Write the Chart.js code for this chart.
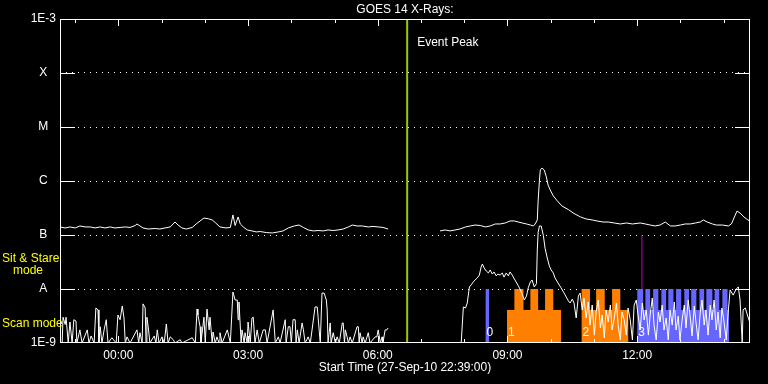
<!DOCTYPE html>
<html>
<head>
<meta charset="utf-8">
<title>GOES 14 X-Rays</title>
<script src="https://cdn.jsdelivr.net/npm/chart.js@4.4.0/dist/chart.umd.min.js"></script>
<style>
  html, body { margin: 0; padding: 0; background: #000; }
  canvas { display: block; }
</style>
</head>
<body>
<canvas id="xray-chart" width="768" height="384"></canvas>
<script>
// times are hours relative to 00:00 on 28-Sep-10 (plot starts 27-Sep 22:39)
const timeRange = [-1.35, 14.61];
const hourTicks = [-1, 0, 1, 2, 3, 4, 5, 6, 7, 8, 9, 10, 11, 12, 13, 14];
const hourLabels = ['', '00:00', '', '', '03:00', '', '', '06:00', '', '', '09:00', '', '', '12:00', '', ''];
const fluxTicks = [1e-9, 1e-8, 1e-7, 1e-6, 1e-5, 1e-4, 1e-3];
const fluxLabels = ['1E-9', 'A', 'B', 'C', 'M', 'X', '1E-3'];

const eventPeak = 6.68;
const markerTime = 12.11;
const markerRange = [1e-8, 1e-7];

// 1-8 A channel
const longChannel = [
  [-1.35, 1.41e-7], [-1.23, 1.35e-7], [-1.12, 1.41e-7], [-1.00, 1.35e-7], [-0.89, 1.47e-7],
  [-0.77, 1.41e-7], [-0.65, 1.41e-7], [-0.54, 1.35e-7], [-0.42, 1.41e-7], [-0.31, 1.35e-7],
  [-0.19, 1.41e-7], [-0.08, 1.35e-7], [0.04, 1.38e-7], [0.16, 1.41e-7], [0.27, 1.38e-7],
  [0.39, 1.5e-7], [0.43, 1.6e-7], [0.50, 1.47e-7], [0.57, 1.35e-7], [0.69, 1.29e-7],
  [0.85, 1.32e-7], [0.96, 1.29e-7], [1.08, 1.35e-7], [1.20, 1.41e-7], [1.31, 1.74e-7],
  [1.38, 1.53e-7], [1.47, 1.35e-7], [1.57, 1.29e-7], [1.71, 1.38e-7], [1.80, 1.6e-7],
  [1.89, 1.82e-7], [1.98, 2.06e-7], [2.08, 2.0e-7], [2.17, 1.9e-7], [2.24, 1.7e-7],
  [2.35, 1.41e-7], [2.49, 1.35e-7], [2.59, 1.38e-7], [2.65, 2.35e-7], [2.70, 1.5e-7],
  [2.77, 2.16e-7], [2.82, 1.6e-7], [2.89, 1.41e-7], [2.98, 1.24e-7], [3.09, 1.19e-7],
  [3.19, 1.14e-7], [3.28, 1.16e-7], [3.42, 1.11e-7], [3.56, 1.09e-7], [3.70, 1.14e-7],
  [3.81, 1.19e-7], [3.93, 1.35e-7], [4.07, 1.47e-7], [4.18, 1.53e-7], [4.28, 1.38e-7],
  [4.39, 1.24e-7], [4.51, 1.19e-7], [4.62, 1.21e-7], [4.74, 1.19e-7], [4.85, 1.24e-7],
  [4.97, 1.21e-7], [5.08, 1.24e-7], [5.20, 1.29e-7], [5.32, 1.41e-7], [5.41, 1.53e-7],
  [5.52, 1.47e-7], [5.64, 1.47e-7], [5.78, 1.41e-7], [5.89, 1.44e-7], [6.01, 1.41e-7],
  [6.12, 1.38e-7], [6.24, 1.29e-7], [6.5, null],
  [7.44, 1.19e-7], [7.56, 1.24e-7], [7.67, 1.19e-7], [7.79, 1.24e-7], [7.90, 1.29e-7],
  [8.03, 1.41e-7], [8.14, 1.47e-7], [8.25, 1.53e-7], [8.37, 1.5e-7], [8.49, 1.41e-7],
  [8.60, 1.47e-7], [8.72, 1.6e-7], [8.83, 1.6e-7], [8.95, 1.67e-7], [9.06, 1.82e-7],
  [9.16, 1.82e-7], [9.25, 1.74e-7], [9.34, 1.67e-7], [9.44, 1.6e-7], [9.53, 1.53e-7],
  [9.60, 1.47e-7], [9.64, 1.6e-7], [9.69, 1.9e-7], [9.71, 4.45e-7], [9.74, 1.04e-6],
  [9.76, 1.6e-6], [9.80, 1.74e-6], [9.85, 1.6e-6], [9.90, 1.19e-6], [9.94, 8.4e-7],
  [9.99, 6.8e-7], [10.06, 5.3e-7], [10.15, 4.3e-7], [10.26, 3.45e-7], [10.41, 2.95e-7],
  [10.54, 2.5e-7], [10.69, 2.16e-7], [10.82, 1.98e-7], [10.96, 1.9e-7], [11.07, 1.82e-7],
  [11.21, 1.74e-7], [11.33, 1.74e-7], [11.47, 1.67e-7], [11.61, 1.6e-7], [11.75, 1.67e-7],
  [11.89, 1.6e-7], [12.07, 1.67e-7], [12.19, 1.6e-7], [12.30, 1.53e-7], [12.42, 1.47e-7],
  [12.53, 1.53e-7], [12.65, 1.74e-7], [12.77, 1.47e-7], [12.88, 1.47e-7], [13.00, 1.53e-7],
  [13.11, 1.6e-7], [13.23, 1.6e-7], [13.35, 1.67e-7], [13.46, 1.74e-7], [13.53, 1.9e-7],
  [13.62, 1.74e-7], [13.74, 1.6e-7], [13.83, 1.53e-7], [13.97, 1.53e-7], [14.11, 1.47e-7],
  [14.18, 1.6e-7], [14.25, 2.16e-7], [14.31, 2.78e-7], [14.38, 2.55e-7], [14.47, 2.16e-7],
  [14.56, 1.9e-7], [14.61, 1.82e-7]
];

// 0.5-4 A channel
const shortChannel = [
  [-1.35, 1e-9], [-1.30, 1e-9], [-1.28, 3.0e-9], [-1.23, 2.2e-9], [-1.21, 3.0e-9], [-1.16, 1e-9],
  [-1.12, 2.45e-9], [-1.07, 1e-9], [-1.03, 2.7e-9], [-0.98, 2.55e-9], [-0.96, 1e-9], [-0.89, 1.75e-9],
  [-0.84, 1e-9], [-0.72, 1.75e-9], [-0.68, 1e-9], [-0.63, 1.35e-9], [-0.56, 1e-9], [-0.52, 4.45e-9],
  [-0.47, 4.1e-9], [-0.45, 1e-9], [-0.42, 2e-9], [-0.38, 1e-9], [-0.33, 1.75e-9], [-0.28, 2.7e-9],
  [-0.24, 1e-9], [-0.15, 1.25e-9], [-0.05, 1e-9], [-0.01, 3.3e-9], [0.04, 2.7e-9], [0.09, 4.85e-9],
  [0.13, 2.9e-9], [0.16, 1e-9], [0.20, 1.3e-9], [0.27, 1e-9], [0.43, 1.75e-9], [0.47, 1e-9],
  [0.50, 1.55e-9], [0.55, 1e-9], [0.57, 5.3e-9], [0.62, 4.45e-9], [0.64, 1e-9], [0.66, 3.0e-9],
  [0.69, 2e-9], [0.73, 1e-9], [0.83, 1.35e-9], [0.87, 1e-9], [0.90, 1.75e-9], [0.94, 1e-9],
  [1.01, 1.3e-9], [1.06, 1e-9], [1.11, 2.25e-9], [1.15, 1e-9], [1.20, 1.3e-9], [1.27, 1.15e-9],
  [1.31, 1e-9], [1.43, 1.15e-9], [1.47, 1e-9], [1.71, 1.25e-9], [1.78, 1e-9], [1.82, 4.25e-9],
  [1.84, 3.3e-9], [1.89, 2e-9], [1.91, 1e-9], [1.98, 3.0e-9], [2.01, 1e-9], [2.05, 4.25e-9],
  [2.10, 1.75e-9], [2.12, 3.0e-9], [2.17, 1e-9], [2.19, 1.6e-9], [2.24, 1e-9], [2.28, 1.3e-9],
  [2.33, 1e-9], [2.35, 1.55e-9], [2.40, 1e-9], [2.52, 1.75e-9], [2.59, 1e-9], [2.65, 8.8e-9],
  [2.70, 6.25e-9], [2.75, 6.25e-9], [2.77, 2.7e-9], [2.79, 5.75e-9], [2.84, 1e-9], [2.86, 1.75e-9],
  [2.91, 1e-9], [2.93, 1.55e-9], [2.98, 1e-9], [3.00, 2.45e-9], [3.05, 1e-9], [3.09, 2.9e-9],
  [3.12, 3.0e-9], [3.16, 1e-9], [3.21, 1.75e-9], [3.26, 1e-9], [3.35, 1.75e-9], [3.40, 1.75e-9],
  [3.44, 1e-9], [3.58, 4.1e-9], [3.63, 1e-9], [3.70, 1.3e-9], [3.74, 1e-9], [3.86, 2.7e-9],
  [3.88, 1e-9], [3.93, 2e-9], [3.97, 2e-9], [4.00, 1e-9], [4.04, 2.7e-9], [4.09, 2.7e-9],
  [4.11, 1e-9], [4.14, 1.75e-9], [4.18, 1e-9], [4.25, 2.35e-9], [4.28, 1.75e-9], [4.32, 1e-9],
  [4.39, 1.3e-9], [4.44, 1e-9], [4.55, 4.65e-9], [4.60, 4.65e-9], [4.62, 3.0e-9], [4.67, 1e-9],
  [4.71, 8.4e-9], [4.76, 8.4e-9], [4.81, 6.25e-9], [4.83, 4.1e-9], [4.85, 1e-9], [4.90, 2.35e-9],
  [4.92, 1e-9], [4.97, 1.55e-9], [5.02, 1e-9], [5.06, 1.3e-9], [5.11, 1e-9], [5.18, 2.35e-9],
  [5.20, 2.35e-9], [5.23, 1e-9], [5.25, 1.75e-9], [5.29, 1.3e-9], [5.32, 1e-9], [5.36, 1.3e-9],
  [5.41, 1e-9], [5.52, 2e-9], [5.55, 2e-9], [5.57, 1e-9], [5.59, 1.55e-9], [5.64, 1e-9],
  [5.66, 1.3e-9], [5.71, 1e-9], [5.78, 1.55e-9], [5.82, 1e-9], [5.94, 1.3e-9], [5.98, 1.3e-9],
  [6.01, 1.75e-9], [6.06, 1e-9], [6.10, 1.3e-9], [6.12, 1e-9], [6.17, 1.75e-9], [6.21, 1.75e-9],
  [6.24, 1.9e-9], [6.5, null],
  [7.90, 1e-9], [7.93, 1e-9], [7.98, 4.65e-9], [8.03, 4.45e-9], [8.07, 5.5e-9], [8.12, 1.09e-8],
  [8.16, 1.19e-8], [8.21, 1.35e-8], [8.25, 1.47e-8], [8.30, 1.6e-8], [8.35, 1.81e-8], [8.39, 2.55e-8],
  [8.42, 2.9e-8], [8.46, 2.45e-8], [8.51, 2.15e-8], [8.56, 1.98e-8], [8.60, 2.25e-8], [8.65, 1.89e-8],
  [8.69, 2.07e-8], [8.74, 1.75e-8], [8.78, 1.89e-8], [8.83, 1.81e-8], [8.88, 1.98e-8], [8.92, 1.66e-8],
  [8.97, 1.98e-8], [9.02, 1.75e-8], [9.06, 2.07e-8], [9.11, 1.81e-8], [9.16, 1.53e-8], [9.20, 1.35e-8],
  [9.25, 1.15e-8], [9.30, 9.6e-9], [9.34, 8.1e-9], [9.39, 6.25e-9], [9.44, 7.4e-9], [9.48, 1.05e-8],
  [9.53, 1.35e-8], [9.57, 1.47e-8], [9.62, 1.09e-8], [9.67, 1.25e-8], [9.69, 5.3e-8], [9.71, 1.13e-7],
  [9.74, 1.47e-7], [9.78, 1.47e-7], [9.83, 9.8e-8], [9.87, 5.7e-8], [9.92, 3.75e-8], [9.97, 2.65e-8],
  [10.01, 2.25e-8], [10.06, 1.98e-8], [10.10, 1.6e-8], [10.17, 1.29e-8], [10.24, 1.05e-8], [10.31, 8.4e-9],
  [10.36, 7.1e-9], [10.41, 6.0e-9], [10.45, 5.5e-9], [10.50, 6.5e-9], [10.54, 5.5e-9], [10.59, 2.9e-9],
  [10.64, 7.4e-9], [10.68, 8.4e-9], [10.73, 4.1e-9], [10.77, 6.8e-9], [10.82, 2.9e-9], [10.87, 5.75e-9],
  [10.91, 2.15e-9], [10.96, 5.05e-9], [11.01, 1.4e-9], [11.05, 3.75e-9], [11.10, 6.25e-9], [11.15, 1.9e-9],
  [11.19, 3.3e-9], [11.24, 1.24e-9], [11.28, 4.1e-9], [11.33, 2.45e-9], [11.38, 5.05e-9], [11.42, 1.74e-9],
  [11.47, 2.9e-9], [11.52, 5.5e-9], [11.56, 2.15e-9], [11.61, 1.14e-9], [11.65, 3.75e-9], [11.70, 2.67e-9],
  [11.75, 1.4e-9], [11.79, 4.45e-9], [11.84, 2.67e-9], [11.89, 1.14e-9], [11.93, 5.05e-9], [11.98, 6.25e-9],
  [12.02, 3.3e-9], [12.07, 1.74e-9], [12.12, 5.5e-9], [12.16, 2.67e-9], [12.21, 4.1e-9], [12.26, 1.4e-9],
  [12.30, 3.3e-9], [12.35, 6.8e-9], [12.39, 2.15e-9], [12.44, 1.14e-9], [12.49, 3.75e-9], [12.53, 2.45e-9],
  [12.58, 5.05e-9], [12.62, 1.74e-9], [12.67, 2.9e-9], [12.72, 1.14e-9], [12.76, 4.1e-9], [12.81, 2.15e-9],
  [12.86, 5.75e-9], [12.90, 1.74e-9], [12.95, 3.15e-9], [12.99, 1.14e-9], [13.04, 2.67e-9], [13.09, 5.05e-9],
  [13.13, 1.9e-9], [13.18, 6.25e-9], [13.23, 2.9e-9], [13.27, 1.35e-9], [13.32, 4.85e-9], [13.36, 2.45e-9],
  [13.41, 1.14e-9], [13.46, 3.75e-9], [13.50, 6.25e-9], [13.55, 2.15e-9], [13.59, 4.1e-9], [13.64, 1.4e-9],
  [13.69, 5.05e-9], [13.73, 2.67e-9], [13.78, 6.25e-9], [13.83, 1.74e-9], [13.87, 3.75e-9], [13.92, 1.24e-9],
  [13.96, 4.45e-9], [14.01, 2.45e-9], [14.06, 1.14e-9], [14.10, 3.3e-9], [14.15, 9.6e-9], [14.22, 7.7e-9],
  [14.29, 1.0e-8], [14.34, 1.09e-8], [14.38, 6.25e-9], [14.43, 1.0e-9], [14.45, 4.1e-9], [14.50, 4.45e-9],
  [14.55, 3.3e-9], [14.61, 2.35e-9]
];

// observing mode blocks: switch times and the mode held until the next switch
const modeLevel = { stare: 1e-8, scan: 4.1e-9 };
const blockNames = ['0', '1', '2', '3'];
const blockTimes = [
  [8.49, 8.58],
  [8.99, 9.16, 9.37, 9.53, 9.71, 9.87, 10.06, 10.24],
  [10.71, 10.91, 11.05, 11.25, 11.42, 11.61, 11.80],
  [12.00, 12.14, 12.19, 12.30, 12.37, 12.49, 12.56, 12.67, 12.72, 12.84, 12.90, 13.02, 13.09,
   13.20, 13.25, 13.37, 13.44, 13.55, 13.60, 13.74, 13.79, 13.90, 13.97, 14.09, 14.13]
];
const blockModes = [
  ['stare'],
  ['scan', 'stare', 'scan', 'stare', 'scan', 'stare', 'scan'],
  ['stare', 'scan', 'stare', 'scan', 'stare', 'scan'],
  ['stare', 'scan', 'stare', 'scan', 'stare', 'scan', 'stare', 'scan', 'stare', 'scan', 'stare', 'scan',
   'stare', 'scan', 'stare', 'scan', 'stare', 'scan', 'stare', 'scan', 'stare', 'scan', 'stare', 'scan']
];
const blockColors = ['#6666ff', '#ff8000', '#ff8000', '#6666ff'];

const FONT = 'Liberation Sans, Arial, sans-serif';

function toPoints(pairs) {
    return pairs.map(([t, f]) => ({ x: t, y: f }));
}

function blockPoints(times, modes) {
    const pts = modes.map((m, i) => ({ x: times[i], y: modeLevel[m] }));
    pts.push({ x: times[times.length - 1], y: modeLevel[modes[modes.length - 1]] });
    return pts;
}

const blockDatasets = blockNames.map((name, i) => ({
    label: 'block ' + name,
    blockLabel: name,
    data: blockPoints(blockTimes[i], blockModes[i]),
    stepped: 'before',
    fill: 'start',
    backgroundColor: blockColors[i],
    borderColor: 'rgba(0,0,0,0)',
    borderWidth: 1,
    pointRadius: 0,
    order: 5
}));

// frame, tick marks and free text, the way the GOES plots draw them
const goesFrame = {
    id: 'goesFrame',
    afterDatasetDraw(chart, args) {
        const ds = chart.data.datasets[args.index];
        if (ds.blockLabel === undefined) return;
        const { ctx, chartArea: a, scales: { x } } = chart;
        ctx.save();
        ctx.fillStyle = '#fff';
        ctx.font = '12px ' + FONT;
        ctx.textAlign = 'left';
        ctx.textBaseline = 'middle';
        ctx.fillText(ds.blockLabel, x.getPixelForValue(ds.data[0].x) + 1, a.bottom - 10);
        ctx.restore();
    },
    afterDraw(chart) {
        const { ctx, chartArea: a, scales: { x, y } } = chart;
        ctx.save();
        ctx.strokeStyle = '#fff';
        ctx.lineWidth = 1;
        ctx.strokeRect(a.left + 0.5, a.top + 0.5, a.right - a.left - 1, a.bottom - a.top - 1);

        ctx.beginPath();
        hourTicks.forEach((h, i) => {
            const px = Math.round(x.getPixelForValue(h)) + 0.5;
            const len = hourLabels[i] ? 7 : 4;
            ctx.moveTo(px, a.top); ctx.lineTo(px, a.top + len);
            ctx.moveTo(px, a.bottom); ctx.lineTo(px, a.bottom - len);
        });
        fluxTicks.slice(1, -1).forEach(f => {
            const py = Math.round(y.getPixelForValue(f)) + 0.5;
            ctx.moveTo(a.left, py); ctx.lineTo(a.left + 15, py);
            ctx.moveTo(a.right - 15, py); ctx.lineTo(a.right, py);
        });
        ctx.stroke();

        ctx.fillStyle = '#fff';
        ctx.font = '12px ' + FONT;
        ctx.textBaseline = 'middle';
        ctx.textAlign = 'center';
        ctx.fillText('GOES 14 X-Rays:', (a.left + a.right) / 2, 10);
        ctx.textAlign = 'left';
        ctx.fillText('Event Peak', x.getPixelForValue(eventPeak) + 10, 43);

        ctx.fillStyle = '#ffff00';
        ctx.fillText('Sit & Stare', 2, 259);
        ctx.fillText('mode', 13, 271);
        ctx.fillText('Scan mode', 2, 324);
        ctx.restore();
    }
};

const chart = new Chart(document.getElementById('xray-chart'), {
    type: 'line',
    data: {
        datasets: [
            {
                label: '0.5-4.0 A',
                data: toPoints(shortChannel),
                borderColor: '#ffffff',
                borderWidth: 1,
                pointRadius: 0,
                tension: 0,
                order: 1
            },
            {
                label: '1.0-8.0 A',
                data: toPoints(longChannel),
                borderColor: '#ffffff',
                borderWidth: 1,
                pointRadius: 0,
                tension: 0,
                order: 1
            },
            {
                label: 'Event Peak',
                data: [{ x: eventPeak, y: fluxTicks[0] }, { x: eventPeak, y: fluxTicks[fluxTicks.length - 1] }],
                borderColor: '#99cc00',
                borderWidth: 2,
                pointRadius: 0,
                order: 2
            },
            {
                label: 'marker',
                data: [{ x: markerTime, y: markerRange[0] }, { x: markerTime, y: markerRange[1] }],
                borderColor: '#c000c0',
                borderWidth: 1,
                pointRadius: 0,
                order: 2
            },
            ...blockDatasets
        ]
    },
    options: {
        responsive: false,
        animation: false,
        layout: { padding: { top: 19, right: 18, left: 0, bottom: 0 } },
        plugins: {
            legend: { display: false },
            tooltip: { enabled: false },
            title: { display: false }
        },
        scales: {
            x: {
                type: 'linear',
                min: timeRange[0],
                max: timeRange[1],
                afterBuildTicks: scale => { scale.ticks = hourTicks.map(v => ({ value: v })); },
                afterFit: scale => { scale.height = 41; },
                grid: { display: false, drawTicks: false },
                border: { display: false },
                ticks: {
                    color: '#fff',
                    font: { family: FONT, size: 12 },
                    padding: 5,
                    maxRotation: 0,
                    autoSkip: false,
                    callback: (v, i) => hourLabels[i]
                },
                title: {
                    display: true,
                    text: 'Start Time (27-Sep-10 22:39:00)',
                    color: '#fff',
                    font: { family: FONT, size: 12 },
                    padding: { top: 0, bottom: 9 }
                }
            },
            y: {
                type: 'logarithmic',
                min: fluxTicks[0],
                max: fluxTicks[fluxTicks.length - 1],
                afterBuildTicks: scale => { scale.ticks = fluxTicks.map(v => ({ value: v })); },
                afterFit: scale => { scale.width = 60; },
                grid: {
                    drawTicks: false,
                    color: ctx => (ctx.index > 0 && ctx.index < fluxTicks.length - 1) ? '#ffffff' : 'rgba(0,0,0,0)'
                },
                border: { display: false, dash: [1, 5] },
                ticks: {
                    color: '#fff',
                    font: { family: FONT, size: 12 },
                    padding: 4,
                    crossAlign: 'center',
                    autoSkip: false,
                    callback: (v, i) => fluxLabels[i]
                }
            }
        }
    },
    plugins: [goesFrame]
});
</script>
</body>
</html>
